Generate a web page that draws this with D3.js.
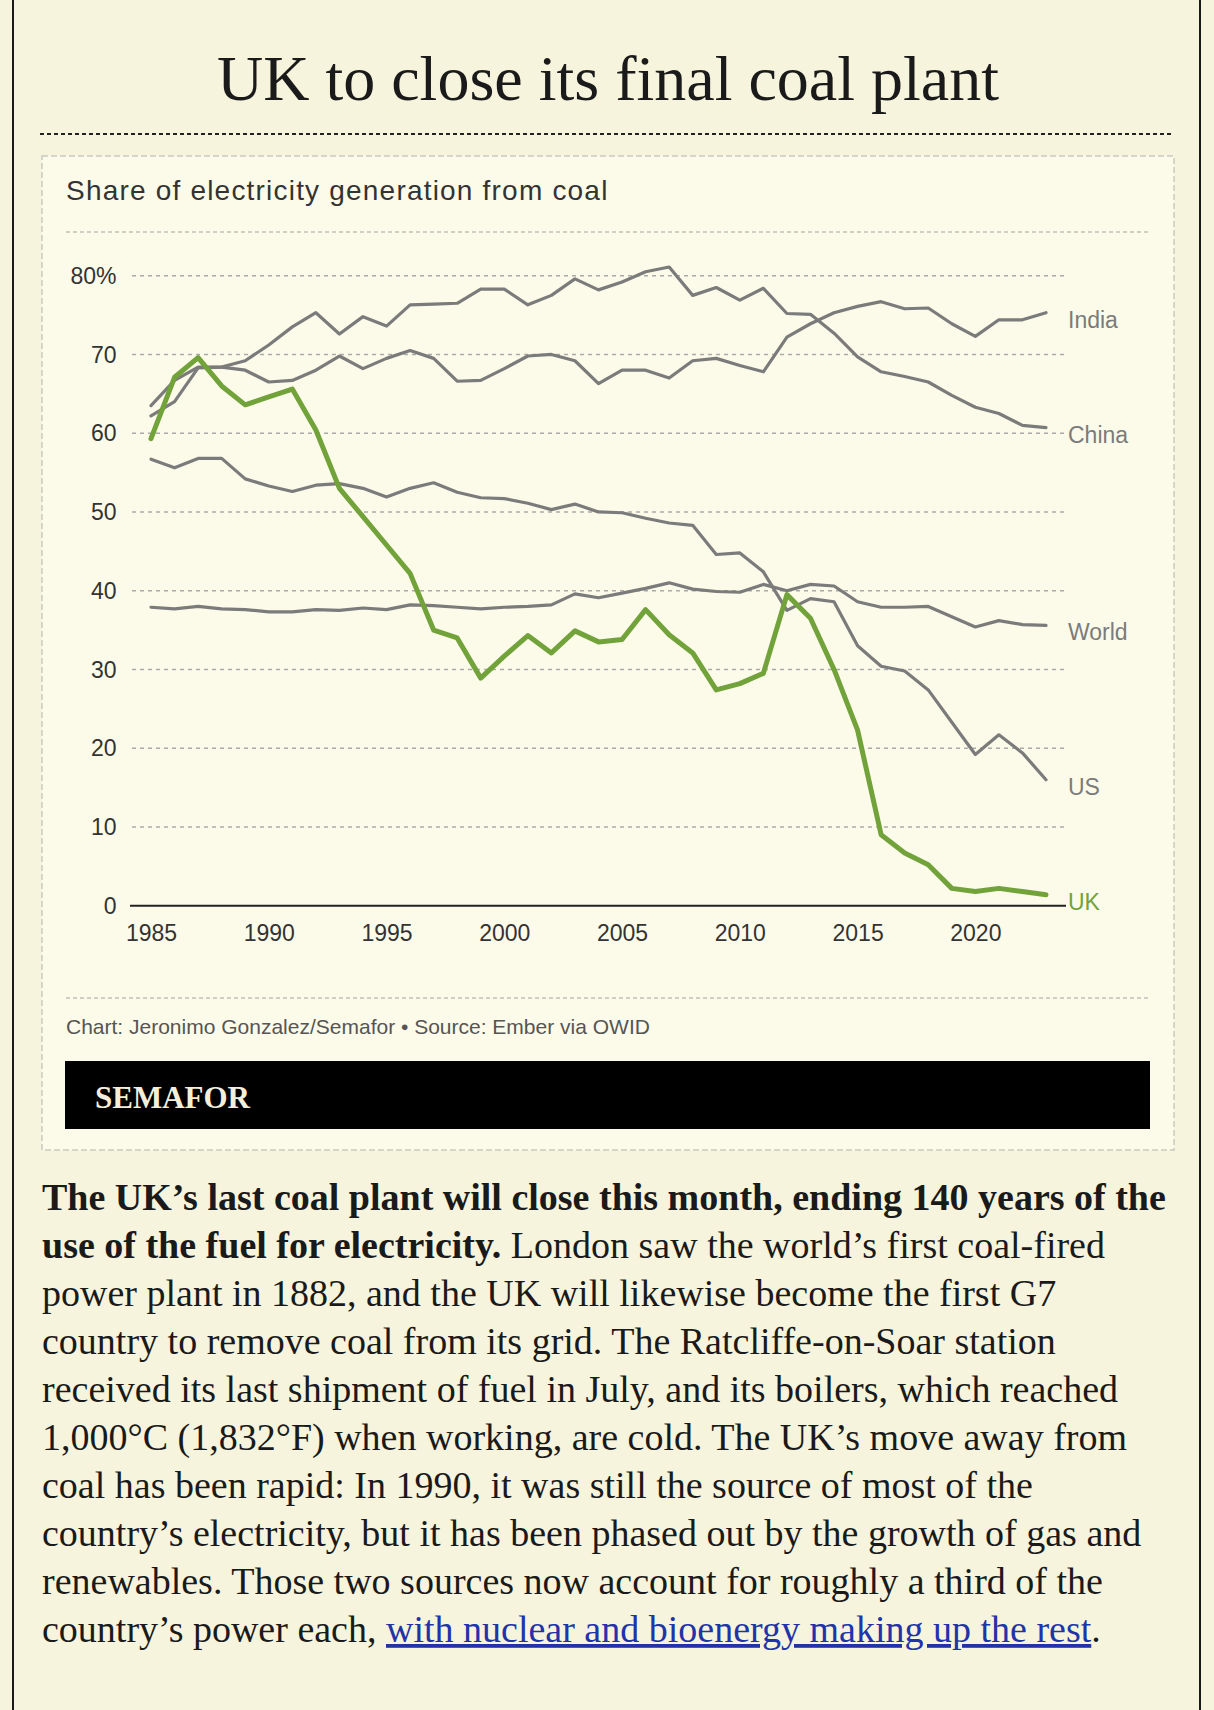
<!DOCTYPE html>
<html>
<head>
<meta charset="utf-8">
<title>UK to close its final coal plant</title>
<script src="https://d3js.org/d3.v7.min.js"></script>
<style>
  body { margin: 0; background: #f6f4dc; }
  svg { display: block; }
</style>
</head>
<body>
<div id="page"></div>
<script>
// data (share of electricity from coal, %)
var years = [1985, 1986, 1987, 1988, 1989, 1990, 1991, 1992, 1993, 1994,
             1995, 1996, 1997, 1998, 1999, 2000, 2001, 2002, 2003, 2004,
             2005, 2006, 2007, 2008, 2009, 2010, 2011, 2012, 2013, 2014,
             2015, 2016, 2017, 2018, 2019, 2020, 2021, 2022, 2023];
var india = [63.5, 66.7, 68.4, 68.4, 68.0, 66.5, 66.7, 68.0, 69.8, 68.2,
             69.5, 70.5, 69.5, 66.6, 66.7, 68.2, 69.8, 70.0, 69.2, 66.3,
             68.0, 68.0, 67.0, 69.2, 69.5, 68.6, 67.8, 72.2, 73.9, 75.3,
             76.1, 76.7, 75.8, 75.9, 73.9, 72.3, 74.4, 74.4, 75.3];
var china = [62.2, 64.0, 68.3, 68.4, 69.2, 71.2, 73.5, 75.3, 72.6, 74.8,
             73.6, 76.3, 76.4, 76.5, 78.3, 78.3, 76.3, 77.5, 79.6, 78.2,
             79.2, 80.5, 81.1, 77.5, 78.5, 76.9, 78.4, 75.2, 75.1, 72.7,
             69.7, 67.8, 67.2, 66.5, 64.8, 63.3, 62.5, 61.0, 60.7];
var world = [37.9, 37.7, 38.0, 37.7, 37.6, 37.3, 37.3, 37.6, 37.5, 37.8,
             37.6, 38.2, 38.1, 37.9, 37.7, 37.9, 38.0, 38.2, 39.6, 39.1,
             39.7, 40.3, 41.0, 40.2, 39.9, 39.8, 40.8, 40.0, 40.8, 40.6,
             38.6, 37.9, 37.9, 38.0, 36.7, 35.4, 36.2, 35.7, 35.6];
var us    = [56.7, 55.6, 56.8, 56.8, 54.2, 53.3, 52.6, 53.4, 53.6, 53.0,
             51.9, 53.0, 53.7, 52.5, 51.8, 51.7, 51.1, 50.3, 51.0, 50.0,
             49.9, 49.2, 48.6, 48.3, 44.6, 44.8, 42.4, 37.5, 39.0, 38.6,
             33.0, 30.4, 29.8, 27.4, 23.3, 19.2, 21.7, 19.4, 16.0];
var uk    = [59.3, 67.1, 69.6, 66.0, 63.6, 64.6, 65.6, 60.4, 53.0, 49.4,
             45.8, 42.2, 35.0, 34.0, 28.9, 31.7, 34.3, 32.1, 34.9, 33.5,
             33.8, 37.6, 34.4, 32.1, 27.4, 28.2, 29.5, 39.5, 36.5, 30.0,
             22.3, 9.0, 6.7, 5.2, 2.2, 1.8, 2.2, 1.8, 1.4];
var yTicks = [0, 10, 20, 30, 40, 50, 60, 70, 80];
var xTicks = [1985, 1990, 1995, 2000, 2005, 2010, 2015, 2020];

var series = [
  {name: "India", values: india},
  {name: "China", values: china},
  {name: "World", values: world},
  {name: "US", values: us},
  {name: "UK", values: uk}
];

var W = 1214, H = 1710;
var sans = "'Liberation Sans', Arial, sans-serif";
var serif = "'Liberation Serif', 'Times New Roman', serif";

var svg = d3.select("#page").append("svg")
    .attr("width", W)
    .attr("height", H);

// page frame
svg.append("rect").attr("x", 0).attr("y", 0).attr("width", W).attr("height", H).attr("fill", "#f6f4dc");
svg.append("line").attr("x1", 13).attr("x2", 13).attr("y1", 0).attr("y2", H).attr("stroke", "#1a1a1a").attr("stroke-width", 2);
svg.append("line").attr("x1", 1200).attr("x2", 1200).attr("y1", 0).attr("y2", H).attr("stroke", "#1a1a1a").attr("stroke-width", 2);

// headline
svg.append("text")
  .attr("x", 608).attr("y", 100)
  .attr("text-anchor", "middle")
  .attr("font-family", serif)
  .attr("font-size", 64)
  .attr("fill", "#1a1a1a")
  .text("UK to close its final coal plant");

svg.append("line")
  .attr("x1", 40).attr("x2", 1174).attr("y1", 134).attr("y2", 134)
  .attr("stroke", "#222").attr("stroke-width", 2).attr("stroke-dasharray", "4 3");

// chart card
svg.append("rect")
  .attr("x", 42).attr("y", 156).attr("width", 1132).attr("height", 994)
  .attr("fill", "#fcfbe9")
  .attr("stroke", "#c9c9c0").attr("stroke-width", 1.5).attr("stroke-dasharray", "6 3");

svg.append("text")
  .attr("x", 66).attr("y", 200)
  .attr("font-family", sans).attr("font-size", 28).attr("fill", "#333")
  .attr("letter-spacing", 1.2)
  .text("Share of electricity generation from coal");

svg.append("line")
  .attr("x1", 66).attr("x2", 1151).attr("y1", 232).attr("y2", 232)
  .attr("stroke", "#cfcfc6").attr("stroke-width", 2).attr("stroke-dasharray", "4 3");

// scales
var x = d3.scaleLinear().domain([1985, 2023]).range([151, 1046]);
var y = d3.scaleLinear().domain([0, 80]).range([905.7, 275.7]);

var plot = svg.append("g");

// gridlines
plot.selectAll(".grid")
  .data(yTicks.filter(function(d) { return d > 0; }))
  .enter().append("line")
    .attr("class", "grid")
    .attr("x1", x(1985) - 19).attr("x2", x(2023) + 21)
    .attr("y1", function(d) { return y(d); })
    .attr("y2", function(d) { return y(d); })
    .attr("stroke", "#aaa").attr("stroke-width", 1.5).attr("stroke-dasharray", "4 4");

// y labels
plot.selectAll(".ylab")
  .data(yTicks)
  .enter().append("text")
    .attr("class", "ylab")
    .attr("x", 116.5)
    .attr("y", function(d) { return y(d); })
    .attr("dy", "0.36em")
    .attr("text-anchor", "end")
    .attr("font-family", sans).attr("font-size", 23).attr("fill", "#333")
    .text(function(d) { return d === 80 ? "80%" : d; });

// x axis
var xAxis = d3.axisBottom(x)
  .tickValues(xTicks)
  .tickFormat(d3.format("d"))
  .tickSize(0)
  .tickPadding(19);

var ax = plot.append("g")
  .attr("transform", "translate(0," + y(0) + ")")
  .call(xAxis);
ax.select(".domain").remove();
ax.selectAll("text")
  .attr("font-family", sans).attr("font-size", 23).attr("fill", "#333");

plot.append("line")
  .attr("x1", x(1985) - 21).attr("x2", x(2023) + 20)
  .attr("y1", y(0)).attr("y2", y(0))
  .attr("stroke", "#222").attr("stroke-width", 2);

// lines
var line = d3.line()
  .x(function(d, i) { return x(years[i]); })
  .y(function(d) { return y(d); });

var grey = "#7b7b7b", green = "#72a23a";

plot.selectAll(".series")
  .data(series)
  .enter().append("path")
    .attr("class", "series")
    .attr("d", function(d) { return line(d.values); })
    .attr("fill", "none")
    .attr("stroke", function(d) { return d.name === "UK" ? green : grey; })
    .attr("stroke-width", function(d) { return d.name === "UK" ? 5 : 3.2; })
    .attr("stroke-linejoin", "round")
    .attr("stroke-linecap", "round")
    .sort(function(a, b) { return a.name === "UK" ? 1 : (b.name === "UK" ? -1 : 0); });

plot.selectAll(".slab")
  .data(series)
  .enter().append("text")
    .attr("class", "slab")
    .attr("x", 1068)
    .attr("y", function(d) { return y(d.values[d.values.length - 1]) + 15; })
    .attr("font-family", sans).attr("font-size", 23)
    .attr("fill", function(d) { return d.name === "UK" ? green : grey; })
    .text(function(d) { return d.name; });

// footer
svg.append("line")
  .attr("x1", 66).attr("x2", 1151).attr("y1", 998).attr("y2", 998)
  .attr("stroke", "#cfcfc6").attr("stroke-width", 2).attr("stroke-dasharray", "4 3");

svg.append("text")
  .attr("x", 66).attr("y", 1034)
  .attr("font-family", sans).attr("font-size", 21).attr("fill", "#555")
  .text("Chart: Jeronimo Gonzalez/Semafor \u2022 Source: Ember via OWID");

svg.append("rect")
  .attr("x", 65).attr("y", 1061).attr("width", 1085).attr("height", 68)
  .attr("fill", "#000");

svg.append("text")
  .attr("x", 95).attr("y", 1108)
  .attr("font-family", serif).attr("font-weight", "bold").attr("font-size", 31)
  .attr("fill", "#f4efdb")
  .text("SEMAFOR");

// body copy, one row per line as in the original
var bodyLines = [
  [{t: "The UK\u2019s last coal plant will close this month, ending 140 years of the", b: true}],
  [{t: "use of the fuel for electricity.", b: true}, {t: " London saw the world\u2019s first coal-fired"}],
  [{t: "power plant in 1882, and the UK will likewise become the first G7"}],
  [{t: "country to remove coal from its grid. The Ratcliffe-on-Soar station"}],
  [{t: "received its last shipment of fuel in July, and its boilers, which reached"}],
  [{t: "1,000\u00b0C (1,832\u00b0F) when working, are cold. The UK\u2019s move away from"}],
  [{t: "coal has been rapid: In 1990, it was still the source of most of the"}],
  [{t: "country\u2019s electricity, but it has been phased out by the growth of gas and"}],
  [{t: "renewables. Those two sources now account for roughly a third of the"}],
  [{t: "country\u2019s power each, "}, {t: "with nuclear and bioenergy making up the rest", link: true}, {t: "."}]
];

var body = svg.append("g")
  .attr("font-family", serif).attr("font-size", 38).attr("fill", "#1a1a1a");

bodyLines.forEach(function(parts, i) {
  var t = body.append("text").attr("x", 42).attr("y", 1210 + i * 48);
  parts.forEach(function(p) {
    var s = t.append("tspan").text(p.t);
    if (p.b) s.attr("font-weight", "bold");
    if (p.link) s.attr("fill", "#2233aa").style("text-decoration", "underline");
  });
});
</script>
</body>
</html>
